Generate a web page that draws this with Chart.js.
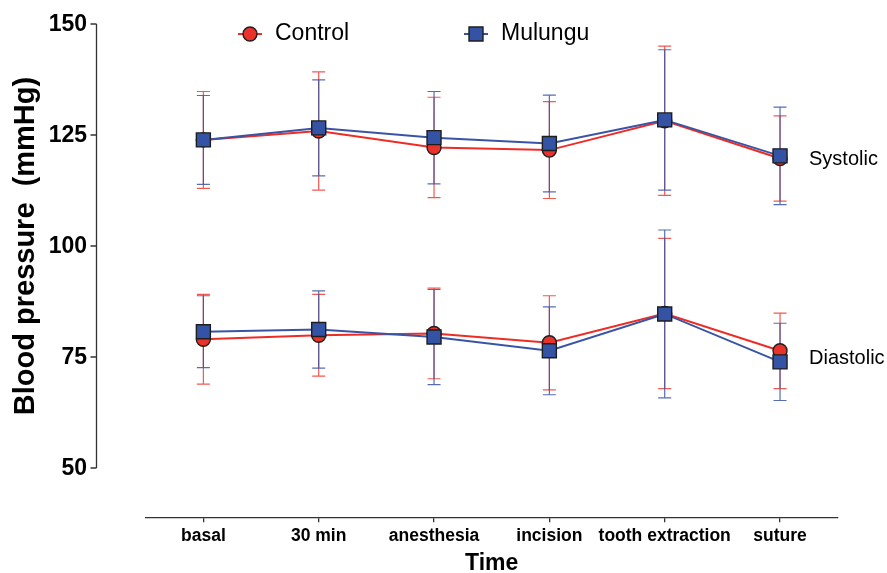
<!DOCTYPE html>
<html>
<head>
<meta charset="utf-8">
<script src="https://cdn.jsdelivr.net/npm/chart.js@4/dist/chart.umd.min.js"></script>
<style>
  html, body { margin: 0; padding: 0; background: #fff; }
  #wrap { width: 887px; height: 573px; }
</style>
</head>
<body>
<div id="wrap"><canvas id="chart" width="887" height="573"></canvas></div>
<script>
// values (mean and SD, mmHg)
const CATEGORIES = ["basal", "30 min", "anesthesia", "incision", "tooth extraction", "suture"];
const CONTROL_SYS = [123.9, 125.9, 122.2, 121.6, 128.2, 119.7];
const CONTROL_SYS_SD = [10.9, 13.3, 11.3, 10.9, 16.8, 9.6];
const MULUNGU_SYS = [123.9, 126.6, 124.4, 123.1, 128.4, 120.3];
const MULUNGU_SYS_SD = [10.0, 10.8, 10.4, 10.9, 15.8, 11.0];
const CONTROL_DIA = [79.0, 79.9, 80.3, 78.2, 84.8, 76.4];
const CONTROL_DIA_SD = [10.1, 9.2, 10.2, 10.6, 16.9, 8.5];
const MULUNGU_DIA = [80.7, 81.2, 79.5, 76.4, 84.7, 73.9];
const MULUNGU_DIA_SD = [8.1, 8.7, 10.7, 9.9, 18.9, 8.7];
const Y_TICKS = [50, 75, 100, 125, 150];

const FONT = "'Liberation Sans', Arial, sans-serif";
const RED = "#ee2c26";
const RED_FILL = "#e8322b";
const BLUE = "#3a54a5";
const BLUE_FILL = "#3553a5";
const EDGE = "#1e1e1e";
const AXIS = "#333";
const Y_AXIS_X = 96.5;

function series(label, data, sd, color, fill, style, radius, group) {
  return {
    label, data, sd, group,
    borderColor: color, borderWidth: 2,
    pointStyle: style, pointRadius: radius, pointHoverRadius: radius,
    pointBackgroundColor: fill, pointBorderColor: EDGE, pointBorderWidth: 1.4,
    tension: 0, fill: false,
  };
}

// first dataset is painted last, so Mulungu goes on top
const datasets = [
  series("Mulungu", MULUNGU_SYS, MULUNGU_SYS_SD, BLUE, BLUE_FILL, "rect", 9.9, "Systolic"),
  series("Mulungu", MULUNGU_DIA, MULUNGU_DIA_SD, BLUE, BLUE_FILL, "rect", 9.9, "Diastolic"),
  series("Control", CONTROL_SYS, CONTROL_SYS_SD, RED, RED_FILL, "circle", 7, "Systolic"),
  series("Control", CONTROL_DIA, CONTROL_DIA_SD, RED, RED_FILL, "circle", 7, "Diastolic"),
];

const errorBars = {
  id: "errorBars",
  beforeDatasetsDraw(chart) {
    const { ctx, scales: { x, y } } = chart;
    ctx.save();
    ctx.lineWidth = 1.2;
    // Control first so blue bars sit over red ones
    for (let i = chart.data.datasets.length - 1; i >= 0; i--) {
      const ds = chart.data.datasets[i];
      ctx.strokeStyle = ds.borderColor === RED ? "rgba(238,60,50,0.85)" : "rgba(58,84,165,0.85)";
      ds.data.forEach((v, j) => {
        const px = x.getPixelForValue(j);
        const top = y.getPixelForValue(v + ds.sd[j]);
        const bot = y.getPixelForValue(v - ds.sd[j]);
        ctx.beginPath();
        ctx.moveTo(px, top); ctx.lineTo(px, bot);
        ctx.moveTo(px - 6.5, top); ctx.lineTo(px + 6.5, top);
        ctx.moveTo(px - 6.5, bot); ctx.lineTo(px + 6.5, bot);
        ctx.stroke();
      });
    }
    ctx.restore();
  },
};

function marker(ctx, style, cx, cy, fill) {
  ctx.fillStyle = fill;
  ctx.strokeStyle = EDGE;
  ctx.lineWidth = 1.4;
  ctx.beginPath();
  if (style === "circle") ctx.arc(cx, cy, 7, 0, Math.PI * 2);
  else ctx.rect(cx - 7, cy - 7, 14, 14);
  ctx.fill();
  ctx.stroke();
}

const decorations = {
  id: "decorations",
  afterDraw(chart) {
    const { ctx, scales: { x, y } } = chart;
    ctx.save();

    // detached y axis with its tick labels
    const yTop = y.getPixelForValue(Y_TICKS[Y_TICKS.length - 1]);
    const yBot = y.getPixelForValue(Y_TICKS[0]);
    ctx.strokeStyle = AXIS;
    ctx.lineWidth = 1.3;
    ctx.beginPath();
    ctx.moveTo(Y_AXIS_X, yTop); ctx.lineTo(Y_AXIS_X, yBot);
    Y_TICKS.forEach((t) => {
      const py = y.getPixelForValue(t);
      ctx.moveTo(Y_AXIS_X - 6, py); ctx.lineTo(Y_AXIS_X, py);
    });
    ctx.stroke();
    ctx.fillStyle = "#000";
    ctx.font = `bold 23px ${FONT}`;
    ctx.textAlign = "right";
    ctx.textBaseline = "middle";
    Y_TICKS.forEach((t) => ctx.fillText(String(t), Y_AXIS_X - 9.5, y.getPixelForValue(t) + 1));

    // y title
    ctx.font = `bold 29px ${FONT}`;
    ctx.textAlign = "center";
    ctx.textBaseline = "alphabetic";
    ctx.translate(34, (yTop + yBot) / 2);
    ctx.rotate(-Math.PI / 2);
    ctx.fillText("Blood pressure  (mmHg)", 0, 0);
    ctx.setTransform(1, 0, 0, 1, 0, 0);

    // legend
    const items = [
      { label: "Control", color: RED, fill: RED_FILL, style: "circle", x: 250 },
      { label: "Mulungu", color: BLUE, fill: BLUE_FILL, style: "rect", x: 476 },
    ];
    ctx.font = `23px ${FONT}`;
    ctx.textAlign = "left";
    ctx.textBaseline = "middle";
    items.forEach((it) => {
      ctx.strokeStyle = it.color;
      ctx.lineWidth = 2;
      ctx.beginPath();
      ctx.moveTo(it.x - 12, 34); ctx.lineTo(it.x + 12, 34);
      ctx.stroke();
      marker(ctx, it.style, it.x, 34, it.fill);
      ctx.fillStyle = "#000";
      ctx.fillText(it.label, it.x + 25, 34);
    });

    // group labels beside the last points
    ctx.font = `20px ${FONT}`;
    const last = CATEGORIES.length - 1;
    const lx = x.getPixelForValue(last) + 29;
    [["Systolic", CONTROL_SYS, MULUNGU_SYS], ["Diastolic", CONTROL_DIA, MULUNGU_DIA]].forEach(([name, a, b]) => {
      const py = y.getPixelForValue((a[last] + b[last]) / 2) + 2;
      ctx.fillText(name, lx, py);
    });
    ctx.restore();
  },
};

new Chart(document.getElementById("chart"), {
  type: "line",
  data: { labels: CATEGORIES, datasets },
  plugins: [errorBars, decorations],
  options: {
    responsive: false,
    animation: false,
    devicePixelRatio: 1,
    layout: { padding: { top: 24, right: 49.3, bottom: 0, left: 0 } },
    plugins: { legend: { display: false }, tooltip: { enabled: false } },
    scales: {
      x: {
        type: "category",
        offset: true,
        border: { display: true, color: AXIS, width: 1.3 },
        grid: { display: true, drawOnChartArea: false, drawTicks: true, tickLength: 5, offset: false, color: AXIS, lineWidth: 1.3 },
        ticks: { color: "#000", font: { family: FONT, size: 17.5, weight: "bold" }, padding: 3.5, maxRotation: 0, autoSkip: false },
        title: { display: true, text: "Time", color: "#000", font: { family: FONT, size: 23, weight: "bold", lineHeight: 0.8 }, padding: { top: 0, bottom: 0 } },
        afterFit(scale) { scale.height = 55.7; },
      },
      y: {
        min: 38.9,
        max: 150,
        border: { display: false },
        grid: { display: false, drawTicks: false },
        ticks: { display: false },
        afterBuildTicks(scale) { scale.ticks = Y_TICKS.map((v) => ({ value: v })); },
        afterFit(scale) { scale.width = 145.7; },
      },
    },
  },
});
</script>
</body>
</html>
